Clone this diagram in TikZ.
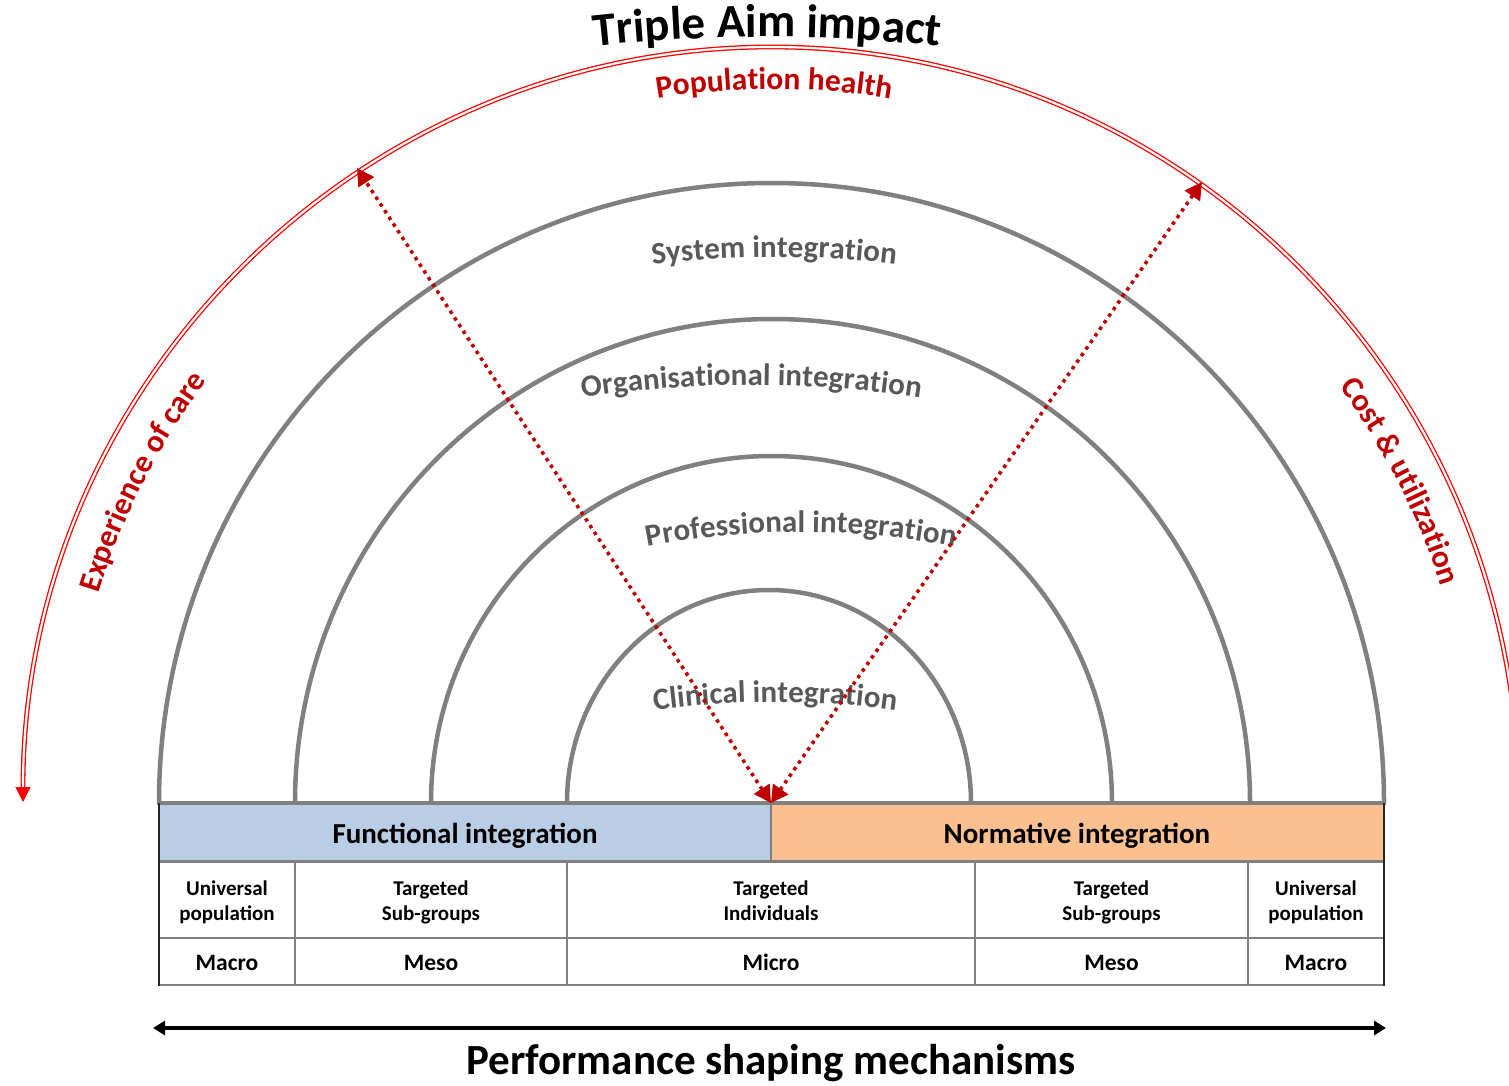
\documentclass[tikz,border=0pt]{standalone}
\usepackage{fontspec}
\setmainfont{Carlito}
\usetikzlibrary{arrows.meta,decorations.text}
\definecolor{dred}{HTML}{C00000}
\definecolor{bred}{HTML}{FF0000}
\definecolor{arcgray}{HTML}{808080}
\definecolor{txtgray}{HTML}{595959}
\definecolor{fblue}{HTML}{B9CDE5}
\definecolor{fpeach}{HTML}{FAC090}
\newcommand{\fmtgray}{\bfseries\fontsize{31}{34}\selectfont\color{txtgray}}
\newcommand{\fmtred}{\bfseries\fontsize{31.5}{34}\selectfont\color{dred}}
\newcommand{\fmtblack}{\bfseries\fontsize{47}{50}\selectfont\color{black}}
\newcommand{\curvetext}[5]{%
  \path[shift={#1}, decorate, decoration={text along path, text={|#4|#5}, text align={center}}]
    (#3+40:#2) arc[start angle=#3+40, end angle=#3-40, radius=#2];}
\begin{document}
\begin{tikzpicture}[x=1pt,y=1pt,
  arcline/.style={draw=arcgray, line width=4.5pt},
  gridline/.style={draw=arcgray, line width=2.5pt},
  edgeline/.style={draw=black!85, line width=2pt},
  redarc/.style={draw=bred, line width=1.3pt, double=white, double distance=2.2pt},
  reddot/.style={draw=dred, line width=3.5pt, dash pattern=on 3.5pt off 4.5pt,
    arrows={Triangle[width=18pt,length=17pt]-Triangle[width=18pt,length=17pt]}},
  headtext/.style={font=\bfseries\fontsize{29}{32}\selectfont, text=black, inner sep=0pt, anchor=base},
  celltext/.style={font=\bfseries\fontsize{21}{25}\selectfont, text=black, align=center, inner sep=0pt},
  leveltext/.style={font=\bfseries\fontsize{23.5}{25}\selectfont, text=black, inner sep=0pt, anchor=base},
  boxfill/.style={minimum width=612pt, minimum height=58pt, inner sep=0pt, anchor=north west, draw=none}
]
\clip (0,0) rectangle (1509,-1086);
\fill[white] (0,0) rectangle (1509,-1086);

% big red arc
\draw[redarc, -{Triangle[width=15pt,length=15pt]}, shift={(771,-802)}]
  (4:748 and 755) arc[start angle=4, end angle=180, x radius=748, y radius=755];

% gray arcs
\draw[arcline] (159,-803) arc[start angle=180,end angle=0,x radius=612.5,y radius=620];
\draw[arcline] (295,-803) arc[start angle=180,end angle=0,x radius=477.5,y radius=484];
\draw[arcline] (431,-803) arc[start angle=180,end angle=0,x radius=340.5,y radius=347];
\draw[arcline] (567,-803) arc[start angle=180,end angle=0,x radius=202,y radius=213];

% header boxes
\node[boxfill, fill=fblue] (funcbox) at (159,-803) {};
\node[boxfill, fill=fpeach, minimum width=613pt] (normbox) at (771,-803) {};
\node[headtext] (functxt) at (465,-843) {Functional integration};
\node[headtext] (normtxt) at (1077,-843) {Normative integration};

% grid
\draw[gridline, line width=4pt] (157,-803) -- (1386,-803);
\draw[gridline] (159,-861.5) -- (1384,-861.5);
\draw[gridline] (771,-803) -- (771,-861.5);
\draw[gridline] (159,-938) -- (1384,-938);
\draw[gridline] (159,-985) -- (1384,-985);
\foreach \cx in {295,567,975,1248} \draw[gridline] (\cx,-861.5) -- (\cx,-986);
\draw[edgeline] (159,-803) -- (159,-986);
\draw[edgeline] (1384,-803) -- (1384,-986);

% cells
\node[celltext] (c1) at (227,-902) {Universal\\population};
\node[celltext] (c2) at (431,-902) {Targeted\\Sub-groups};
\node[celltext] (c3) at (771,-902) {Targeted\\Individuals\vphantom{p}};
\node[celltext] (c4) at (1111.5,-902) {Targeted\\Sub-groups};
\node[celltext] (c5) at (1316,-902) {Universal\\population};
\node[leveltext] (m1) at (227,-970) {Macro};
\node[leveltext] (m2) at (431,-970) {Meso};
\node[leveltext] (m3) at (771,-970) {Micro};
\node[leveltext] (m4) at (1111.5,-970) {Meso};
\node[leveltext] (m5) at (1316,-970) {Macro};

% curved labels
\curvetext{(767,-1637)}{1600}{90}{\fmtblack}{Triple Aim impact}
\curvetext{(774,-804)}{715}{90}{\fmtred}{Population health}
\curvetext{(774,-1257)}{1000}{90}{\fmtgray}{System integration}
\curvetext{(751,-1485)}{1100}{90}{\fmtgray}{Organisational integration}
\curvetext{(801,-1332)}{800}{90}{\fmtgray}{Professional integration}
\curvetext{(775,-1572)}{870}{90}{\fmtgray}{Clinical integration}
\curvetext{(771,-802)}{704}{153}{\fmtred}{Experience of care}
\curvetext{(771,-802)}{704}{27}{\fmtred}{Cost {\&} utilization}

% dotted red arrows
\coordinate (base) at (771,-803);
\coordinate (tipL) at (357,-168);
\coordinate (tipR) at (1202,-182);
\draw[reddot] (base) -- (tipL);
\draw[reddot] (base) -- (tipR);

% bottom arrow and label
\coordinate (pl) at (153,-1028);
\coordinate (pr) at (1386,-1028);
\draw[line width=3.5pt, arrows={Triangle[width=14pt,length=12pt]-Triangle[width=14pt,length=12pt]}] (pl) -- (pr);
\node[font=\bfseries\fontsize{43}{46}\selectfont, anchor=base, inner sep=0pt] (perf) at (771,-1074) {Performance shaping mechanisms};
\end{tikzpicture}
\end{document}
